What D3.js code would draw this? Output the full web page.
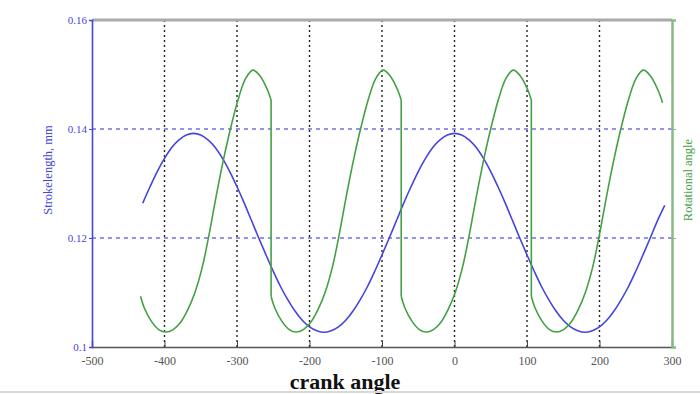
<!DOCTYPE html>
<html>
<head>
<meta charset="utf-8">
<script src="https://cdn.jsdelivr.net/npm/d3@7"></script>
<style>
  html, body { margin: 0; padding: 0; background: #fff; }
  svg { display: block; }
</style>
</head>
<body>
<svg id="chart" width="700" height="394"></svg>
<script>
// Crank angle ticks (degrees) and stroke-length ticks (mm)
const angleTicks = [-500, -400, -300, -200, -100, 0, 100, 200, 300];
const angleGrid = [-400, -300, -200, -100, 0, 100, 200];
const strokeTicks = [0.10, 0.12, 0.14, 0.16];
const strokeTickLabels = ["0.1", "0.12", "0.14", "0.16"];
const strokeGrid = [0.12, 0.14];

// Stroke length vs crank angle
const strokeAngle = [-430, -420, -410, -400, -390, -380, -370, -360, -350, -340, -330, -320, -310, -300,
  -290, -280, -270, -260, -250, -240, -230, -220, -210, -200, -190, -180, -170, -160, -150, -140,
  -130, -120, -110, -100, -90, -80, -70, -60, -50, -40, -30, -20, -10, 0, 10, 20, 30, 40, 50, 60,
  70, 80, 90, 100, 110, 120, 130, 140, 150, 160, 170, 180, 190, 200, 210, 220, 230, 240, 250, 260,
  270, 280, 290];
const strokeLength = [0.1264, 0.1294, 0.1322, 0.1346, 0.1366, 0.1380, 0.1389, 0.1392, 0.1389, 0.1380,
  0.1366, 0.1346, 0.1322, 0.1294, 0.1264, 0.1232, 0.1200, 0.1169, 0.1139, 0.1111, 0.1087, 0.1066,
  0.1049, 0.1037, 0.1030, 0.1027, 0.1030, 0.1037, 0.1049, 0.1066, 0.1087, 0.1111, 0.1139, 0.1169,
  0.1200, 0.1232, 0.1264, 0.1294, 0.1322, 0.1346, 0.1366, 0.1380, 0.1389, 0.1392, 0.1389, 0.1380,
  0.1366, 0.1346, 0.1322, 0.1294, 0.1264, 0.1232, 0.1200, 0.1169, 0.1139, 0.1111, 0.1087, 0.1066,
  0.1049, 0.1037, 0.1030, 0.1027, 0.1030, 0.1037, 0.1049, 0.1066, 0.1087, 0.1111, 0.1139, 0.1169,
  0.1200, 0.1232, 0.1260];

// Rotational angle vs crank angle (repeated angle = sudden drop)
const rotAngle = [-433, -428, -418, -408, -398, -388, -378, -368, -358, -348, -338, -328, -318, -308,
  -298, -288, -278, -268, -258, -253, -253, -248, -238, -228,
  -218.5, -208.5, -198.5, -188.5, -178.5, -168.5, -158.5, -148.5, -138.5, -128.5, -118.5, -108.5,
  -98.5, -88.5, -78.5, -73.5, -73.5, -68.5, -58.5, -48.5,
  -39, -29, -19, -9, 1, 11, 21, 31, 41, 51, 61, 71, 81, 91, 101, 106, 106, 111, 121, 131,
  140.5, 150.5, 160.5, 170.5, 180.5, 190.5, 200.5, 210.5, 220.5, 230.5, 240.5, 250.5, 260.5,
  270.5, 280.5, 287];
const rotValue = [9.3, 7.2, 4.7, 3.2, 2.75, 3.2, 4.5, 6.8, 10.0, 14.6, 21.0, 28.2, 34.8, 40.6,
  45.6, 49.3, 50.8, 49.7, 47.2, 45.3, 9.3, 7.2, 4.7, 3.2,
  2.75, 3.2, 4.5, 6.8, 10.0, 14.6, 21.0, 28.2, 34.8, 40.6, 45.6, 49.3,
  50.8, 49.7, 47.2, 45.3, 9.3, 7.2, 4.7, 3.2,
  2.75, 3.2, 4.5, 6.8, 10.0, 14.6, 21.0, 28.2, 34.8, 40.6, 45.6, 49.3, 50.8, 49.7, 47.2, 45.3, 9.3, 7.2, 4.7, 3.2,
  2.75, 3.2, 4.5, 6.8, 10.0, 14.6, 21.0, 28.2, 34.8, 40.6, 45.6, 49.3, 50.8,
  49.7, 47.2, 44.8];
const rotTicks = [0, 20, 40, 60];

const svg = d3.select("#chart");
const plotLeft = 92, plotRight = 672, plotTop = 20, plotBottom = 347;

const x = d3.scaleLinear().domain([-500, 300]).range([plotLeft, plotRight]);
const yL = d3.scaleLinear().domain([0.10, 0.16]).range([plotBottom, plotTop]);
const yR = d3.scaleLinear().domain([0, 60]).range([plotBottom, plotTop]);

const blue = "#4545dd";
const green = "#44a044";
const serif = "Liberation Serif, serif";

// grid
svg.append("g").selectAll("line").data(angleGrid).join("line")
  .attr("x1", d => x(d)).attr("x2", d => x(d))
  .attr("y1", plotTop).attr("y2", plotBottom)
  .attr("stroke", "#222").attr("stroke-width", 1.4).attr("stroke-dasharray", "2,3");
svg.append("g").selectAll("line").data(strokeGrid).join("line")
  .attr("x1", plotLeft).attr("x2", plotRight)
  .attr("y1", d => yL(d)).attr("y2", d => yL(d))
  .attr("stroke", "#9494ee").attr("stroke-width", 2).attr("stroke-dasharray", "4,4");

// top frame
svg.append("line").attr("x1", plotLeft).attr("x2", plotRight).attr("y1", plotTop).attr("y2", plotTop)
  .attr("stroke", "#aaaaaa").attr("stroke-width", 3);

// bottom axis
const xAxis = svg.append("g").attr("transform", `translate(0,${plotBottom})`)
  .call(d3.axisBottom(x).tickValues(angleTicks).tickFormat(d => d).tickSize(-6).tickPadding(9));
xAxis.select(".domain").attr("stroke", "#555").attr("stroke-width", 1.5);
xAxis.selectAll(".tick line").attr("stroke", "#444");
xAxis.selectAll("text").attr("fill", "#555").attr("font-family", serif)
  .attr("font-size", 12);

// left axis
const yAxisL = svg.append("g").attr("transform", `translate(${plotLeft},0)`)
  .call(d3.axisLeft(yL).tickValues(strokeTicks).tickFormat((d, i) => strokeTickLabels[i]).tickSize(3).tickPadding(2));
yAxisL.select(".domain").attr("stroke", blue).attr("stroke-width", 1.6);
yAxisL.selectAll(".tick line").attr("stroke", blue);
yAxisL.selectAll("text").attr("fill", blue).attr("font-family", serif)
  .attr("font-size", 11);

// right axis
const yAxisR = svg.append("g").attr("transform", `translate(${plotRight},0)`)
  .call(d3.axisRight(yR).tickValues(rotTicks).tickFormat("").tickSize(4));
yAxisR.select(".domain").attr("stroke", "#86bb86").attr("stroke-width", 2.5);
yAxisR.selectAll(".tick line").attr("stroke", "#86bb86");

// stroke length curve
const strokeData = strokeAngle.map((a, i) => [a, strokeLength[i]]);
svg.append("path").datum(strokeData)
  .attr("fill", "none").attr("stroke", blue).attr("stroke-width", 1.6)
  .attr("d", d3.line().x(d => x(d[0])).y(d => yL(d[1])).curve(d3.curveCatmullRom));

// rotational angle curve: smooth pieces joined by vertical drops
const rotData = rotAngle.map((a, i) => [a, rotValue[i]]);
const pieces = [[rotData[0]]];
for (let i = 1; i < rotData.length; i++) {
  if (rotData[i][0] === rotData[i - 1][0]) pieces.push([]);
  pieces[pieces.length - 1].push(rotData[i]);
}
const rotLine = d3.line().x(d => x(d[0])).y(d => yR(d[1])).curve(d3.curveCatmullRom);
const gGreen = svg.append("g").attr("fill", "none").attr("stroke", green).attr("stroke-width", 1.6);
gGreen.selectAll("path").data(pieces).join("path").attr("d", rotLine);
const drops = pieces.slice(1).map((p, i) => [pieces[i][pieces[i].length - 1], p[0]]);
gGreen.selectAll("line").data(drops).join("line")
  .attr("x1", d => x(d[0][0])).attr("x2", d => x(d[1][0]))
  .attr("y1", d => yR(d[0][1])).attr("y2", d => yR(d[1][1]));

// axis titles
svg.append("text").attr("x", 345).attr("y", 389).attr("text-anchor", "middle")
  .attr("font-family", serif).attr("font-weight", "bold").attr("font-size", 22)
  .attr("fill", "#111").text("crank angle");
svg.append("text").attr("transform", "translate(52,170) rotate(-90)").attr("text-anchor", "middle")
  .attr("font-family", serif).attr("font-size", 12.5)
  .attr("fill", blue).text("Strokelength, mm");
svg.append("text").attr("transform", "translate(692,180) rotate(-90)").attr("text-anchor", "middle")
  .attr("font-family", serif).attr("font-size", 12.5)
  .attr("fill", green).text("Rotational angle");

// faint rule along the lower edge
svg.append("line").attr("x1", 0).attr("x2", 700).attr("y1", 392).attr("y2", 392)
  .attr("stroke", "#d8d8d8").attr("stroke-width", 2);
</script>
</body>
</html>
